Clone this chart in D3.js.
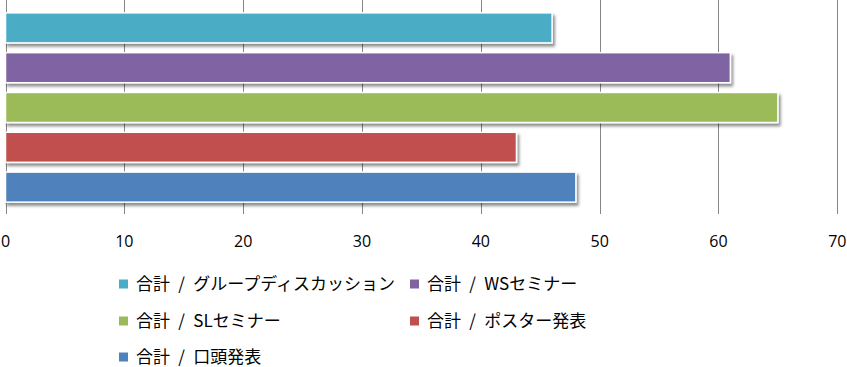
<!DOCTYPE html>
<html><head><meta charset="utf-8">
<script src="https://cdn.jsdelivr.net/npm/d3@7"></script>
<style>body{margin:0;background:#fff}</style>
</head><body>
<svg id="c" width="847" height="367"></svg>
<script>
const categories = ["合計 / グループディスカッション","合計 / WSセミナー","合計 / SLセミナー","合計 / ポスター発表","合計 / 口頭発表"];
const values = [46, 61, 65, 43, 48];
const colors = ["#4BACC6","#8064A2","#9BBB59","#C0504D","#4F81BD"];
const xTicks = [0,10,20,30,40,50,60,70];

const svg = d3.select("#c");
const x = d3.scaleLinear().domain([0,70]).range([5.5,837.3]);
const y = d3.scaleBand().domain(categories).range([8,207]).paddingInner(0.245).paddingOuter(0.122);

const defs = svg.append("defs");
const f = defs.append("filter").attr("id","sh").attr("x","-5%").attr("y","-30%").attr("width","115%").attr("height","170%");
f.append("feGaussianBlur").attr("in","SourceAlpha").attr("stdDeviation",1.8).attr("result","b");
f.append("feOffset").attr("in","b").attr("dx",1.5).attr("dy",3).attr("result","o");
f.append("feComponentTransfer").attr("in","o").attr("result","o2").append("feFuncA").attr("type","linear").attr("slope",0.45);
const m = f.append("feMerge"); m.append("feMergeNode").attr("in","o2"); m.append("feMergeNode").attr("in","SourceGraphic");

// gridlines
svg.append("g").selectAll("line").data(xTicks).join("line")
  .attr("x1",d=>Math.round(x(d))+0.5).attr("x2",d=>Math.round(x(d))+0.5)
  .attr("y1",0).attr("y2",214).attr("stroke","#868686").attr("stroke-width",1);

// bars
svg.append("g").selectAll("rect").data(categories).join("rect")
  .attr("x",x(0)).attr("y",d=>y(d)).attr("width",(d,i)=>x(values[i])-x(0)).attr("height",y.bandwidth())
  .attr("fill",(d,i)=>colors[i]).attr("stroke","#fff").attr("stroke-width",1.5).attr("filter","url(#sh)");

// tick labels
svg.append("g").selectAll("text").data(xTicks).join("text")
  .attr("x",d=>x(d)).attr("y",247).attr("text-anchor","middle")
  .attr("font-family","'Open Sans','Liberation Sans',sans-serif").attr("font-size",16).attr("fill","#000")
  .text(d=>d);

// legend
const legPos = [[119,284],[410,284],[119,321],[410,321],[119,357]];
const lg = svg.append("g").selectAll("g").data(categories).join("g")
  .attr("transform",(d,i)=>`translate(${legPos[i][0]},${legPos[i][1]})`);
lg.append("rect").attr("x",0).attr("y",-4.5).attr("width",9).attr("height",9).attr("fill",(d,i)=>colors[i]);
lg.append("text").attr("x",17).attr("y",0).attr("dy","0.36em")
  .attr("font-family","'Noto Sans CJK JP',sans-serif").attr("font-size",17).attr("fill","#000")
  .attr("word-spacing",4.5)
  .text(d=>d);
</script>
</body></html>
